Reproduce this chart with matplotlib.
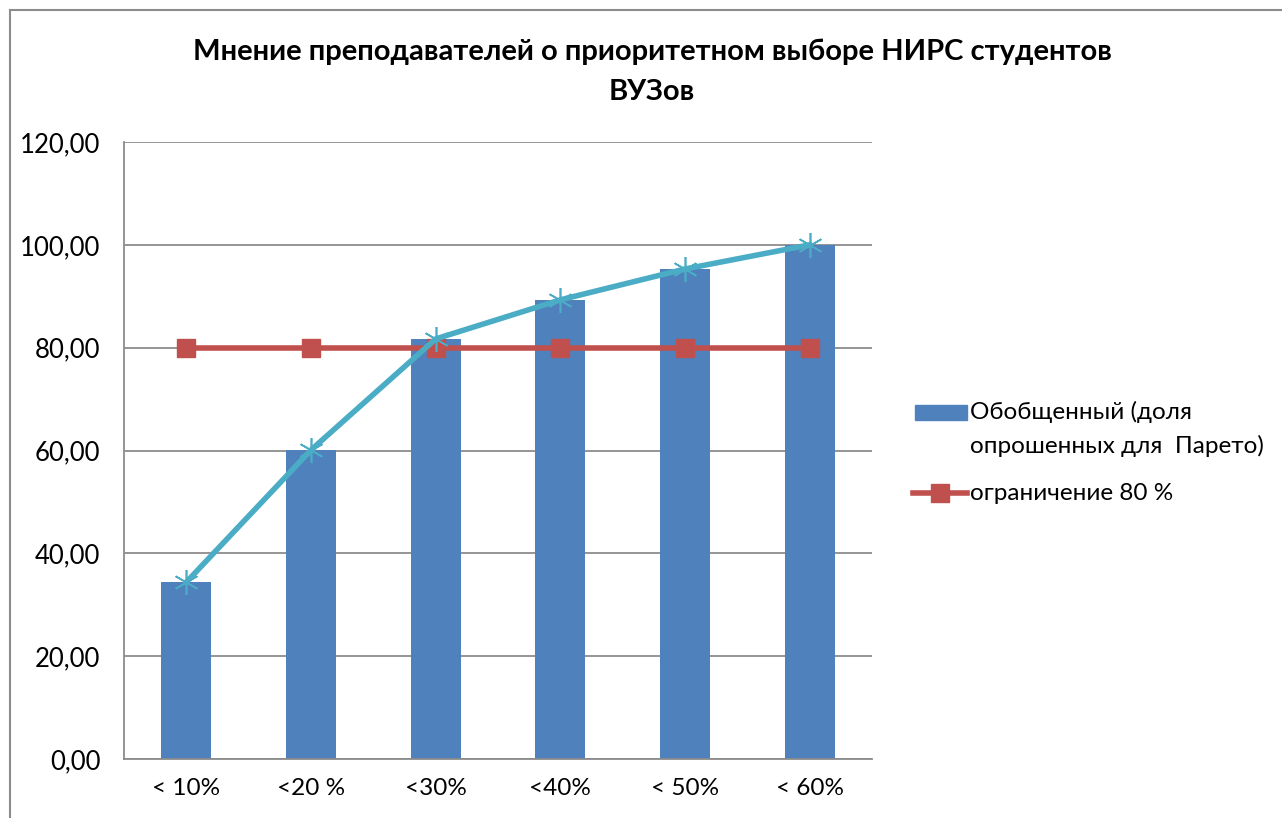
import matplotlib.pyplot as plt
from matplotlib.patches import Rectangle
from matplotlib.lines import Line2D

categories = ["< 10%", "<20 %", "<30%", "<40%", "< 50%", "< 60%"]
generalized = [34.4, 60.1, 81.7, 89.3, 95.3, 100.0]
limit_80 = [80.0, 80.0, 80.0, 80.0, 80.0, 80.0]
y_ticks = [0, 20, 40, 60, 80, 100, 120]

plt.rcParams['font.family'] = ['Lato', 'DejaVu Sans']

fig = plt.figure(figsize=(12.82, 8.18), dpi=100)
W, H = 1282, 818

# outer chart frame (bottom and right run off the picture)
fig.add_artist(Line2D([10 / W, 10 / W], [0, 1 - 10 / H], color='#8c8c8c', lw=1.5))
fig.add_artist(Line2D([10 / W, 1], [1 - 10 / H, 1 - 10 / H], color='#8c8c8c', lw=1.5))

ax = fig.add_axes([124 / W, 1 - 759 / H, 748 / W, (759 - 142) / H])

x = list(range(len(categories)))
ax.bar(x, generalized, width=0.4, color='#4F81BD', zorder=2)
ax.plot(x, limit_80, color='#C0504D', lw=4, marker='s', markersize=13, zorder=3)
ax.plot(x, generalized, color='#4BACC6', lw=4, marker=(6, 2, 0), markersize=18,
        markeredgewidth=1.2, zorder=4)

ax.set_xlim(-0.5, len(categories) - 0.5)
ax.set_ylim(0, 120)
ax.set_yticks(y_ticks)
ax.set_yticklabels([f"{v:.2f}".replace('.', ',') for v in y_ticks])
ax.set_xticks(x)
ax.set_xticklabels(categories)
ax.tick_params(axis='both', length=0, colors='black')
ax.tick_params(axis='y', pad=17, labelsize=18.5)
ax.tick_params(axis='x', pad=14, labelsize=17.5)
ax.yaxis.grid(True, color='#8c8c8c', lw=1.3, zorder=0)
ax.set_axisbelow(True)
for s in ['top', 'right']:
    ax.spines[s].set_visible(False)
ax.spines['left'].set_color('#8c8c8c')
ax.spines['bottom'].set_color('#8c8c8c')
ax.spines['left'].set_linewidth(1.3)
ax.spines['bottom'].set_linewidth(1.3)

fig.text(652 / W, 1 - 52 / H, "Мнение преподавателей о приоритетном выборе НИРС студентов",
         ha='center', va='center', fontsize=21, fontweight='bold')
fig.text(652 / W, 1 - 92 / H, "ВУЗов", ha='center', va='center', fontsize=21, fontweight='bold')

# legend
fig.add_artist(Rectangle((915 / W, 1 - 420 / H), 52 / W, 15 / H,
                         transform=fig.transFigure, color='#4F81BD'))
fig.text(970 / W, 1 - 412 / H, "Обобщенный (доля", va='center', fontsize=17.5)
fig.text(970 / W, 1 - 446 / H, "опрошенных для  Парето)", va='center', fontsize=17.5)
fig.add_artist(Line2D([913 / W, 967 / W], [1 - 493 / H, 1 - 493 / H],
                      color='#C0504D', lw=4, transform=fig.transFigure))
fig.add_artist(Line2D([940 / W], [1 - 493 / H], color='#C0504D', marker='s',
                      markersize=13, transform=fig.transFigure))
fig.text(970 / W, 1 - 493 / H, "ограничение 80 %", va='center', fontsize=17.5)

fig.savefig("out.png", dpi=100, facecolor='white')
